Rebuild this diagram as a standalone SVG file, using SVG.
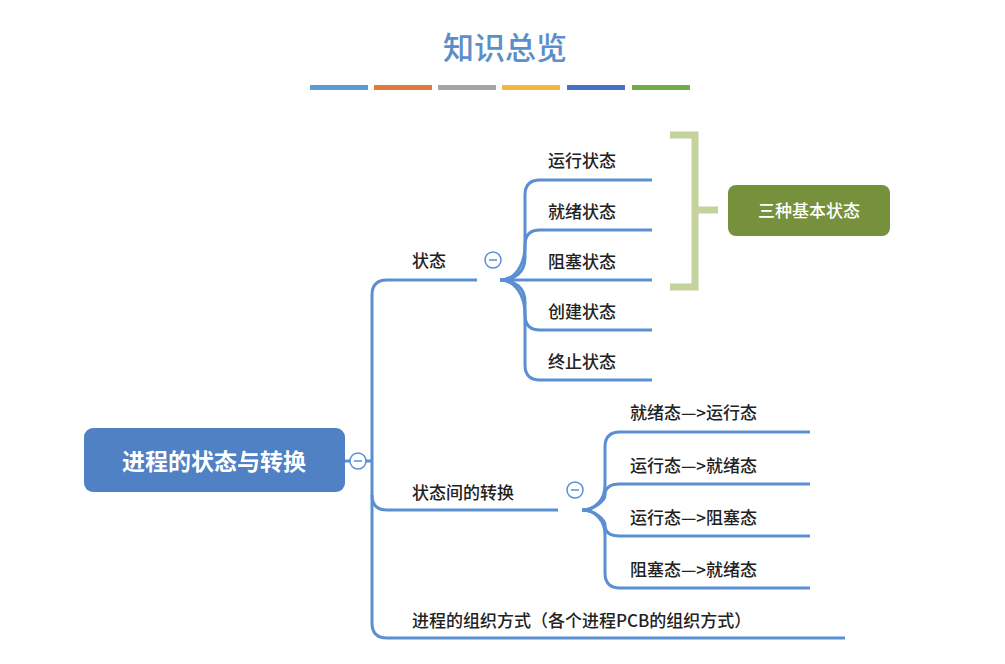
<svg xmlns="http://www.w3.org/2000/svg" width="1005" height="664" viewBox="0 0 1005 664">
<style>
.t{font-family:"Noto Sans CJK SC","Liberation Sans",sans-serif;font-size:17px;font-weight:500;fill:#222}
.l{fill:none;stroke:#5a8fd2;stroke-width:3}
.c{fill:#fff;stroke:#5a8fd2;stroke-width:1.5}
</style>
<rect width="1005" height="664" fill="#fff"/>
<text x="505" y="59" text-anchor="middle" style="font-family:'Noto Sans CJK SC',sans-serif;font-size:31px;font-weight:500;fill:#5b8fcb">知识总览</text>
<g>
<rect x="310" y="85" width="58" height="5" fill="#5b9bd5"/>
<rect x="374" y="85" width="58" height="5" fill="#e07a3f"/>
<rect x="438" y="85" width="58" height="5" fill="#a5a5a5"/>
<rect x="502" y="85" width="58" height="5" fill="#f4b63e"/>
<rect x="567" y="85" width="58" height="5" fill="#4472c4"/>
<rect x="632" y="85" width="58" height="5" fill="#70ad47"/>
</g>
<g id="connectors">
<path class="l" d="M345,461 H372 M372,461 V295 Q372,280 387,280 H477"/>
<path class="l" d="M372,461 V623 Q372,638 387,638 H845"/>
<path class="l" d="M372,495 Q372,510 387,510 H558"/>
<path class="l" d="M500,280 C515,280 525,272 525,258 V195 Q525,180 540,180 H652"/>
<path class="l" d="M500,280 C515,280 525,265 525,245 Q525,230 540,230 H652"/>
<path class="l" d="M500,280 H652"/>
<path class="l" d="M500,280 C515,280 525,295 525,315 Q525,330 540,330 H652"/>
<path class="l" d="M500,280 C515,280 525,288 525,302 V365 Q525,380 540,380 H652"/>
<path class="l" d="M582,510 C595,510 605,500 605,485 V447 Q605,432 620,432 H810"/>
<path class="l" d="M582,510 C595,510 605,500 605,495 Q605,484 620,484 H810"/>
<path class="l" d="M582,510 C595,510 605,520 605,525 Q605,536 620,536 H810"/>
<path class="l" d="M582,510 C595,510 605,520 605,535 V573 Q605,588 620,588 H810"/>
</g>
<g id="root">
<rect x="84" y="428" width="261" height="64" rx="9" fill="#4f81c4"/>
<text x="214" y="470" text-anchor="middle" style="font-family:'Noto Sans CJK SC',sans-serif;font-size:23px;font-weight:bold;fill:#fff">进程的状态与转换</text>
<circle class="c" cx="358" cy="461" r="8"/><path d="M354,461 H362" stroke="#5a8fd2" stroke-width="1.5"/>
</g>
<g id="state">
<text class="t" x="412" y="267">状态</text>
<circle class="c" cx="493" cy="260" r="8"/><path d="M489,260 H497" stroke="#5a8fd2" stroke-width="1.5"/>
<text class="t" x="548" y="167">运行状态</text>
<text class="t" x="548" y="218">就绪状态</text>
<text class="t" x="548" y="268">阻塞状态</text>
<text class="t" x="548" y="318">创建状态</text>
<text class="t" x="548" y="368">终止状态</text>
</g>
<g id="trans">
<text class="t" x="412" y="499">状态间的转换</text>
<circle class="c" cx="575" cy="490" r="8"/><path d="M571,490 H579" stroke="#5a8fd2" stroke-width="1.5"/>
<text class="t" x="630" y="419">就绪态—&gt;运行态</text>
<text class="t" x="630" y="472">运行态—&gt;就绪态</text>
<text class="t" x="630" y="524">运行态—&gt;阻塞态</text>
<text class="t" x="630" y="576">阻塞态—&gt;就绪态</text>
</g>
<g id="org">
<text class="t" x="412" y="627">进程的组织方式（各个进程PCB的组织方式）</text>
</g>
<g id="bracket">
<path d="M670,135 H695 V287 H670 M695,210 H718" fill="none" stroke="#c4d29c" stroke-width="7"/>
<rect x="728" y="185" width="162" height="51" rx="8" fill="#76903c"/>
<text x="809" y="217" text-anchor="middle" style="font-family:'Noto Sans CJK SC',sans-serif;font-size:17px;font-weight:500;fill:#fff">三种基本状态</text>
</g>
</svg>
